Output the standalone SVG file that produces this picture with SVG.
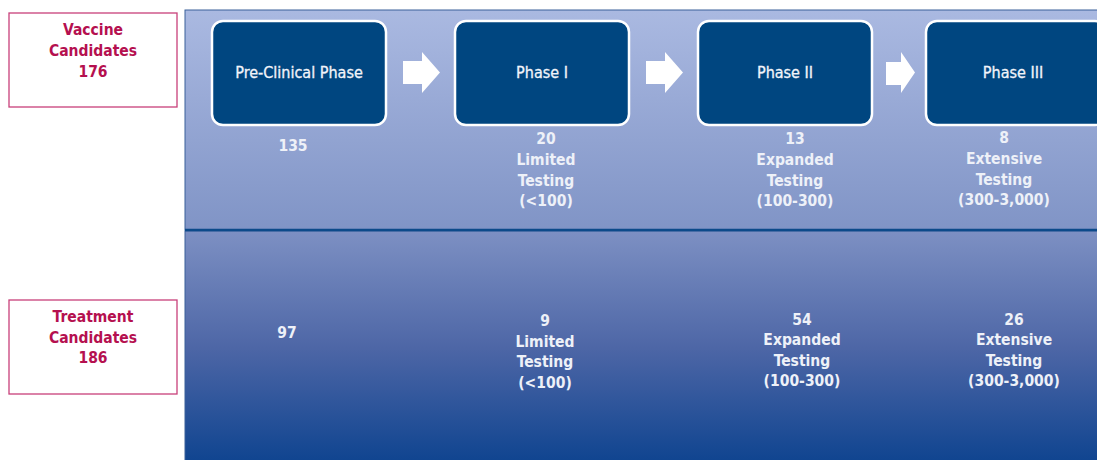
<svg xmlns="http://www.w3.org/2000/svg" width="1097" height="460" viewBox="0 0 1097 460">
<defs>
<linearGradient id="gTop" x1="0" y1="0" x2="0" y2="1">
<stop offset="0" stop-color="#aab9e1"/>
<stop offset="1" stop-color="#8094c6"/>
</linearGradient>
<linearGradient id="gBot" x1="0" y1="0" x2="0" y2="1">
<stop offset="0" stop-color="#7d90c3"/>
<stop offset="0.5" stop-color="#4d66a6"/>
<stop offset="1" stop-color="#0d438f"/>
</linearGradient>
<style>
.cand{fill:#fff;stroke:#c8407a;stroke-width:1.3}
.ct{font-family:"DejaVu Sans Condensed","DejaVu Sans",sans-serif;font-weight:bold;font-size:15.5px;fill:#b5104f;text-anchor:middle}
.ph{fill:#004680;stroke:#fff;stroke-width:2.5}
.pt{font-family:"DejaVu Sans Condensed","DejaVu Sans",sans-serif;font-size:16px;fill:#f2f4fa;text-anchor:middle;stroke:#f2f4fa;stroke-width:0.3}
.nt{font-family:"DejaVu Sans Condensed","DejaVu Sans",sans-serif;font-weight:bold;font-size:15.5px;fill:#eef1f8;text-anchor:middle}
.arr{fill:#fff}
</style>
</defs>
<rect x="185" y="10" width="920" height="220" fill="url(#gTop)" stroke="#3a609a" stroke-width="1"/>
<rect x="185" y="231" width="920" height="235" fill="url(#gBot)" stroke="#3a609a" stroke-width="1"/>
<line x1="185" y1="230" x2="1097" y2="230" stroke="#0c4a8a" stroke-width="2.5"/>
<g id="vaccine">
<rect class="cand" x="9" y="13" width="168" height="94"/>
<text class="ct" x="93" y="35">Vaccine</text>
<text class="ct" x="93" y="56">Candidates</text>
<text class="ct" x="93" y="77">176</text>
</g>
<g id="treatment">
<rect class="cand" x="9" y="300" width="168" height="94"/>
<text class="ct" x="93" y="322">Treatment</text>
<text class="ct" x="93" y="343">Candidates</text>
<text class="ct" x="93" y="363">186</text>
</g>
<g id="preclinical">
<rect class="ph" x="212" y="21" width="174" height="104" rx="11"/>
<text class="pt" x="299" y="78">Pre-Clinical Phase</text>
<text class="nt" x="293" y="151">135</text>
<text class="nt" x="287" y="338">97</text>
</g>
<g id="phase1">
<rect class="ph" x="455" y="21" width="174" height="104" rx="11"/>
<text class="pt" x="542" y="78">Phase I</text>
<text class="nt" x="546" y="144">20</text>
<text class="nt" x="546" y="165">Limited</text>
<text class="nt" x="546" y="186">Testing</text>
<text class="nt" x="546" y="206">(&lt;100)</text>
<text class="nt" x="545" y="326">9</text>
<text class="nt" x="545" y="347">Limited</text>
<text class="nt" x="545" y="367">Testing</text>
<text class="nt" x="545" y="388">(&lt;100)</text>
</g>
<g id="phase2">
<rect class="ph" x="698" y="21" width="174" height="104" rx="11"/>
<text class="pt" x="785" y="78">Phase II</text>
<text class="nt" x="795" y="144">13</text>
<text class="nt" x="795" y="165">Expanded</text>
<text class="nt" x="795" y="186">Testing</text>
<text class="nt" x="795" y="206">(100-300)</text>
<text class="nt" x="802" y="325">54</text>
<text class="nt" x="802" y="345">Expanded</text>
<text class="nt" x="802" y="366">Testing</text>
<text class="nt" x="802" y="386">(100-300)</text>
</g>
<g id="phase3">
<rect class="ph" x="926" y="21" width="180" height="104" rx="11"/>
<text class="pt" x="1013" y="78">Phase III</text>
<text class="nt" x="1004" y="143">8</text>
<text class="nt" x="1004" y="164">Extensive</text>
<text class="nt" x="1004" y="185">Testing</text>
<text class="nt" x="1004" y="205">(300-3,000)</text>
<text class="nt" x="1014" y="325">26</text>
<text class="nt" x="1014" y="345">Extensive</text>
<text class="nt" x="1014" y="366">Testing</text>
<text class="nt" x="1014" y="386">(300-3,000)</text>
</g>
<g id="connectors">
<polygon class="arr" points="403,61 422,61 422,52 440,72.5 422,93 422,84 403,84"/>
<polygon class="arr" points="646,61 665,61 665,52 683,72.5 665,93 665,84 646,84"/>
<polygon class="arr" points="886,62 901,62 901,52 915,72.5 901,93 901,85 886,85"/>
</g>
</svg>
